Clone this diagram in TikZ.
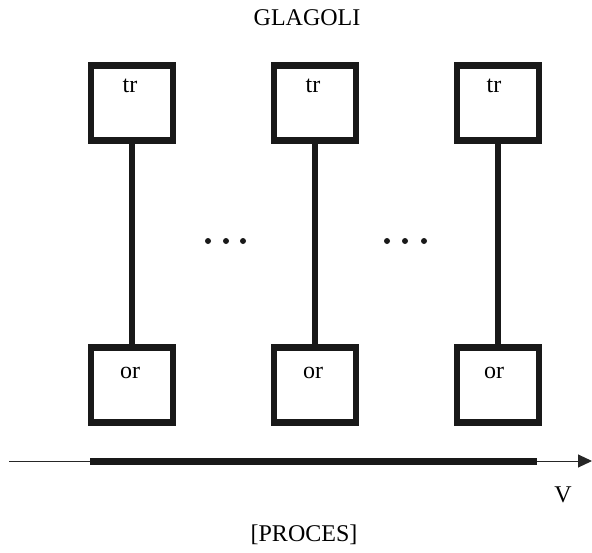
\documentclass[tikz,border=0pt]{standalone}
\usepackage{fontspec}
\setmainfont{Liberation Serif}
\usetikzlibrary{arrows.meta}
\begin{document}
\begin{tikzpicture}[x=1pt,y=-1pt,
  boxst/.style={draw=black!90,line width=6.5pt,minimum width=82pt,minimum height=75pt,inner sep=0pt,fill=white},
  lbl/.style={font=\fontsize{24}{28}\selectfont,inner sep=0pt,anchor=base},
  stem/.style={draw=black!90,line width=5.5pt},
  dotst/.style={circle,fill=black!90,minimum size=6pt,inner sep=0pt}]
\useasboundingbox (0,0) rectangle (592,552);
% boxes
\node[boxst] (t1) at (132,103) {};
\node[boxst] (t2) at (315,103) {};
\node[boxst] (t3) at (498,103) {};
\node[boxst] (b1) at (132,385) {};
\node[boxst] (b2) at (315,385) {};
\node[boxst] (b3) at (498,385) {};
% stems
\draw[stem] (t1.south) -- (b1.north);
\draw[stem] (t2.south) -- (b2.north);
\draw[stem] (t3.south) -- (b3.north);
% labels
\node[lbl] (lt1) at (130,92) {tr};
\node[lbl] (lt2) at (313,92) {tr};
\node[lbl] (lt3) at (494,92) {tr};
\node[lbl] (lb1) at (130,378) {or};
\node[lbl] (lb2) at (313,378) {or};
\node[lbl] (lb3) at (494,378) {or};
% dots
\node[dotst] (d1) at (208,241) {};
\node[dotst] (d2) at (226,241) {};
\node[dotst] (d3) at (243,241) {};
\node[dotst] (d4) at (387,241) {};
\node[dotst] (d5) at (405,241) {};
\node[dotst] (d6) at (424,241) {};
% axis
\coordinate (a0) at (9,461);
\coordinate (a1) at (90,461);
\coordinate (a2) at (537,461);
\coordinate (a3) at (592,461);
\draw[line width=1pt,black!85,-{Triangle[length=14pt,width=13pt]}] (a0) -- (a3);
\draw[line width=7pt,black!90] (a1) -- (a2);
% texts
\node[lbl] (title) at (307,25) {GLAGOLI};
\node[lbl] (v) at (563,502) {V};
\node[lbl] (proc) at (304,541) {[PROCES]};
\end{tikzpicture}
\end{document}
